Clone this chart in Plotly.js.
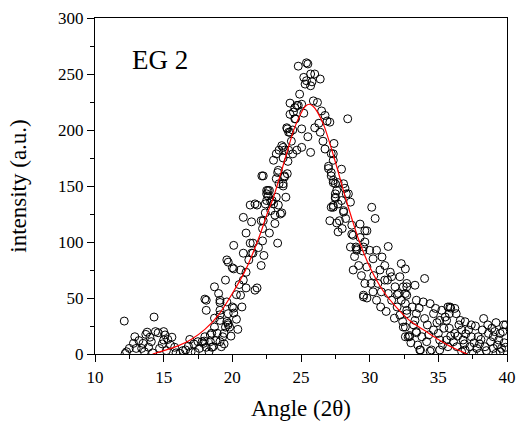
<!DOCTYPE html>
<html>
<head>
<meta charset="utf-8">
<script src="https://cdn.plot.ly/plotly-3.0.1.min.js"></script>
<style>html,body{margin:0;padding:0;background:#fff;}#chart{width:518px;height:428px;}</style>
</head>
<body>
<div id="chart"></div>
<script>
// measured intensity points (angle 2θ, intensity a.u.)
var dataX = [12.13,12.2,12.3,12.8,12.9,13.0,13.4,13.5,13.7,13.8,13.9,14.1,14.2,14.3,14.4,14.6,14.7,15.0,15.0,15.1,15.2,15.5,15.6,15.9,16.4,16.6,16.9,17.0,17.3,17.5,17.6,17.8,17.9,17.95,18.0,18.0,18.1,18.1,18.1,18.4,18.4,18.5,18.5,18.6,18.7,18.7,18.7,18.9,19.0,19.1,19.1,19.1,19.1,19.1,19.1,19.2,19.3,19.4,19.5,19.5,19.6,19.6,19.6,19.7,19.7,19.7,19.7,19.8,20.0,20.0,20.1,20.1,20.1,20.1,20.3,20.3,20.6,20.6,20.7,20.8,20.8,20.8,21.0,21.0,21.0,21.3,21.3,21.4,21.4,21.5,21.5,21.65,21.65,21.8,21.8,22.1,22.1,22.2,22.2,22.15,22.25,22.25,22.4,22.4,22.5,22.5,22.5,22.6,22.6,22.7,22.7,22.8,22.8,22.9,23.0,23.0,23.1,23.1,23.2,23.2,23.2,23.3,23.3,23.35,23.35,23.4,23.4,23.5,23.6,23.6,23.7,23.7,23.7,23.7,23.8,23.8,23.8,23.96,24.0,24.0,24.05,24.1,24.1,24.2,24.2,24.2,24.4,24.4,24.45,24.55,24.55,24.6,24.7,24.7,24.8,24.8,25.05,25.05,25.05,25.2,25.3,25.4,25.4,25.5,25.5,25.7,25.7,25.7,25.8,26.0,26.0,26.2,26.4,26.4,26.5,26.75,26.75,26.9,27.0,27.0,27.1,27.1,27.2,27.2,27.2,27.2,27.35,27.35,27.35,27.35,27.35,27.35,27.5,27.5,27.5,27.5,27.6,27.6,27.7,27.7,27.7,27.8,27.95,27.95,28.1,28.1,28.1,28.2,28.25,28.3,28.4,28.45,28.6,28.6,28.7,28.7,28.8,28.8,29.0,29.05,29.05,29.2,29.3,29.3,29.5,29.55,29.55,29.55,29.65,29.65,29.65,29.8,29.8,29.8,30.0,30.1,30.15,30.25,30.25,30.4,30.5,30.5,30.6,30.75,30.85,30.9,31.1,31.1,31.3,31.35,31.35,31.5,31.6,31.6,31.85,32.0,32.0,32.1,32.2,32.2,32.3,32.3,32.45,32.45,32.6,32.6,32.6,32.6,32.6,32.7,32.7,32.7,32.7,32.7,32.8,32.9,32.9,33.1,33.2,33.3,33.3,33.4,33.4,33.4,33.4,33.6,33.65,33.7,33.8,33.9,34.0,34.0,34.15,34.3,34.4,34.5,34.65,34.65,34.8,35.0,35.1,35.1,35.1,35.25,35.4,35.5,35.6,35.6,35.7,35.7,35.8,35.8,35.85,35.9,36.1,36.2,36.2,36.3,36.35,36.4,36.6,36.7,36.8,36.9,36.95,36.95,37.2,37.3,37.4,37.4,37.55,37.6,37.8,37.9,38.0,38.1,38.2,38.3,38.4,38.5,38.65,38.8,38.9,39.0,39.0,39.2,39.2,39.3,39.4,39.5,39.6,39.7,39.75,39.8,39.9,
  12.5,13.2,13.6,14.0,14.9,15.3,15.8,16.2,16.8,17.2,18.3,18.8,19.4,19.9,20.4,20.5,21.2,21.9,22.3,23.9,24.3,24.9,25.2,25.9,26.3,26.6,27.4,28.0,28.9,29.4,30.3,30.8,31.2,31.8,32.4,33.0,33.5,34.2,34.4,34.9,35.3,35.9,36.5,36.7,37.0,37.7,38.0,38.6,39.1,39.5,39.9];
var dataY = [29.4,0.5,2,9.5,15.4,5,5,9.5,17.5,19.5,6,11,1,33,20,19,5,20,12.5,17,3,8,15,1,3,3.6,13,2,1.5,11,5,11,9.5,11.5,15.4,49,39,48,6,11,17,6,18.5,6.5,24,32,60,18.5,54,11,30,35,39,46,48,6.5,15.4,18.5,24,66,29,46.5,84,26,27.5,36,82,24,42,77,36.5,41,76,97,31,53,52.5,75,42,66,90,122,59,73,108,99,133,90,118,90,99,57,134,59,133,79,119,101,112,159,119,159,126,134,137,143,146,141,146,108,146,128,136,137,134,173,116.5,124,140,156.5,178.7,99,162,133,164,152,182,125,126,186,150,152,175,184.5,158,159,182,202,161,201,172,182,198,198,214,224,178.7,200,216,210,220,210,182,222,222,257,184.5,201,223,247,241,244,260,194,259,180,239.5,250,243,202,250,224.6,198,245.5,217,183,213,208,165.6,167.6,119,207,131,159,162,179,131,132.6,153,155,173,178.7,139,140,143,152,117,146,109,134,153,119,137,165,126.7,128,152,148,121,143,210,143,95.5,135.6,107,115,75,106,95.5,92.6,94,79,104,116,92,51,52.5,95.5,63,100,110,50,77.7,110,92.6,63,131,55.5,85,121,48,92.6,63,75,55.5,86.6,66,79,66,54,96,73,48,69,60,42,53,54,34.7,69,48,80.7,24,60,15.4,24,45,54,76,36,39,52.5,60,63,15.4,15.4,16.5,42,26,30,61.4,19,20,36,48,41,3.6,3.6,15.4,46.5,31.7,67.4,11,17,2.5,3.6,21.4,36,40.7,18.4,3.6,12.5,30,39,23,33,12.5,30,6.5,42,23,36,42,41,11,18.4,40.7,36,6.5,16,30,21.4,12.5,9,3.6,28.8,21.4,6.5,15.4,26,0.6,10,5,15.4,0.5,13,21.4,31.7,6.5,3,18.4,11,23,5,15.4,0.5,28,8,12.5,18.4,5,20,26,10,26,
  5,12,2,15,9,13,6,0.5,7,9,2,12,9,16,22,62,84,95,88,140,190,232,215,226,206,190,188,112,87,70,70,42,38,32,29,10,8,26,45,28,8,16,26,2,18,25,9,26,20,2,6];
// fitted curve
var fitX = [14.2,15,16,17,18,19,20,21,22,22.5,23,23.5,24,24.5,25,25.3,25.6,25.9,26.2,26.7,27.2,27.7,28.2,28.7,29.2,30,31,32,33,34,35,36,37.1];
var fitY = [0,3,7,13,22,35,54,76,106,124,140,160,181,201,215,221,223,221,216,203,184,163,141,121,102,78,56,41,29,21,13,6,0];
var xTickVals = [10,15,20,25,30,35,40];
var yTickVals = [0,50,100,150,200,250,300];
var labelText = 'EG 2';

var serif = 'Liberation Serif, Times New Roman, serif';
var traces = [
  {x: dataX, y: dataY, type: 'scatter', mode: 'markers', cliponaxis: true,
   marker: {symbol: 'circle-open', size: 8, color: '#000', line: {width: 1, color: '#000'}},
   hoverinfo: 'skip', showlegend: false},
  {x: fitX, y: fitY, type: 'scatter', mode: 'lines', line: {color: '#ff0000', width: 1.2, shape: 'spline', smoothing: 0.6},
   hoverinfo: 'skip', showlegend: false}
];
var layout = {
  width: 518, height: 428,
  margin: {l: 95, r: 11, t: 18, b: 74},
  paper_bgcolor: '#fff', plot_bgcolor: '#fff',
  font: {family: serif, color: '#000', size: 17},
  xaxis: {range: [10, 40], tickvals: xTickVals, ticktext: xTickVals.map(String),
    ticks: 'outside', ticklen: 7, tickwidth: 1, tickcolor: '#000',
    minor: {dtick: 2.5, tick0: 10, ticks: 'outside', ticklen: 4, tickwidth: 1, tickcolor: '#000'},
    showline: true, linecolor: '#000', linewidth: 1.2, mirror: true, showgrid: false, zeroline: false,
    tickfont: {family: serif, size: 17, color: '#000'},
    title: {text: 'Angle (2θ)', font: {family: serif, size: 23, color: '#000'}, standoff: 14}},
  yaxis: {range: [0, 300], tickvals: yTickVals, ticktext: yTickVals.map(String),
    ticks: 'outside', ticklen: 7, tickwidth: 1, tickcolor: '#000',
    minor: {dtick: 25, tick0: 0, ticks: 'outside', ticklen: 4, tickwidth: 1, tickcolor: '#000'},
    showline: true, linecolor: '#000', linewidth: 1.2, mirror: true, showgrid: false, zeroline: false,
    tickfont: {family: serif, size: 17, color: '#000'},
    title: {text: 'intensity (a.u.)', font: {family: serif, size: 23, color: '#000'}, standoff: 24}},
  annotations: [{text: labelText, xref: 'paper', yref: 'paper', x: 0.085, y: 0.875,
    xanchor: 'left', yanchor: 'middle', showarrow: false, font: {family: serif, size: 27, color: '#000'}}]
};
Plotly.newPlot('chart', traces, layout, {displayModeBar: false, staticPlot: true});
</script>
</body>
</html>
